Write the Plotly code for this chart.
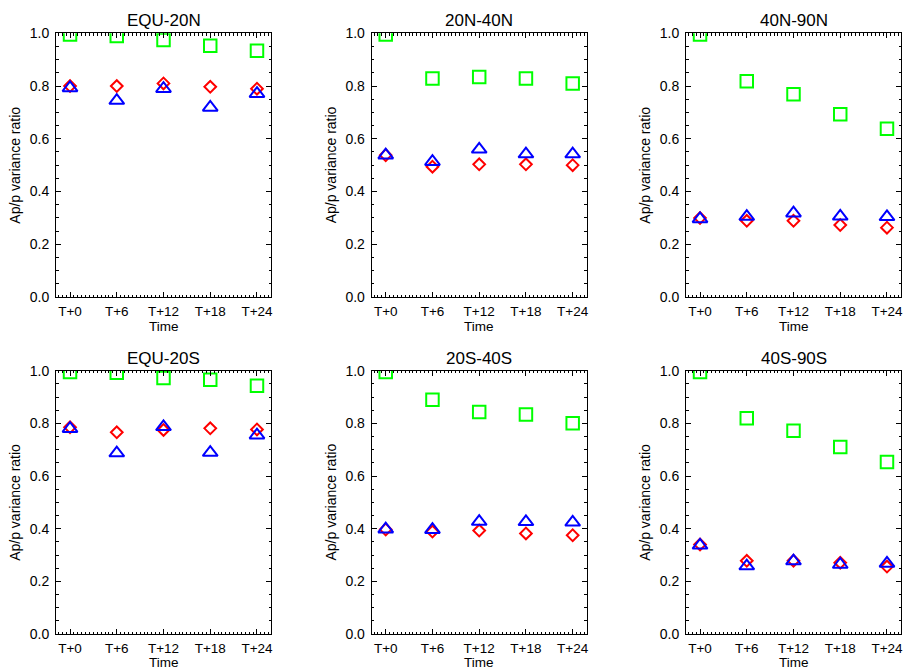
import plotly.graph_objects as go

W, H = 903, 669

hours = [0, 6, 12, 18, 24]
tick_labels = ["T+0", "T+6", "T+12", "T+18", "T+24"]
regions = ["EQU-20N", "20N-40N", "40N-90N", "EQU-20S", "20S-40S", "40S-90S"]

# green squares
sq_equ20n = [0.995, 0.99, 0.975, 0.953, 0.934]
sq_20n40n = [0.995, 0.829, 0.834, 0.829, 0.810]
sq_40n90n = [0.995, 0.818, 0.769, 0.693, 0.638]
sq_equ20s = [0.995, 0.992, 0.972, 0.966, 0.943]
sq_20s40s = [0.995, 0.890, 0.843, 0.834, 0.800]
sq_40s90s = [0.995, 0.819, 0.772, 0.710, 0.653]

# red diamonds
di_equ20n = [0.800, 0.800, 0.810, 0.797, 0.790]
di_20n40n = [0.538, 0.494, 0.503, 0.503, 0.500]
di_40n90n = [0.300, 0.289, 0.289, 0.273, 0.263]
di_equ20s = [0.785, 0.766, 0.775, 0.781, 0.777]
di_20s40s = [0.397, 0.389, 0.393, 0.382, 0.375]
di_40s90s = [0.340, 0.278, 0.278, 0.271, 0.256]

# blue triangles
tr_equ20n = [0.793, 0.745, 0.790, 0.719, 0.771]
tr_20n40n = [0.538, 0.513, 0.560, 0.542, 0.542]
tr_40n90n = [0.296, 0.305, 0.318, 0.306, 0.304]
tr_equ20s = [0.780, 0.687, 0.787, 0.689, 0.755]
tr_20s40s = [0.398, 0.396, 0.427, 0.426, 0.424]
tr_40s90s = [0.337, 0.258, 0.277, 0.264, 0.268]

squares = [sq_equ20n, sq_20n40n, sq_40n90n, sq_equ20s, sq_20s40s, sq_40s90s]
diamonds = [di_equ20n, di_20n40n, di_40n90n, di_equ20s, di_20s40s, di_40s90s]
triangles = [tr_equ20n, tr_20n40n, tr_40n90n, tr_equ20s, tr_20s40s, tr_40s90s]

# panel pixel boxes (left, right, top, bottom)
lefts = [56, 371.7, 686]
width_px = 215
rows_px = [(33.3, 297.0), (370.7, 634.0)]

FONT = "Liberation Sans, Arial, Helvetica, sans-serif"

fig = go.Figure()
annotations = []

for i in range(6):
    r, c = divmod(i, 3)
    n = i + 1
    xa = "x" if n == 1 else f"x{n}"
    ya = "y" if n == 1 else f"y{n}"
    l = lefts[c]
    rgt = l + width_px
    top, bot = rows_px[r]
    xdom = [l / W, rgt / W]
    ydom = [1 - bot / H, 1 - top / H]

    fig.add_trace(go.Scatter(x=hours, y=squares[i], mode="markers", xaxis=xa, yaxis=ya,
                             marker=dict(symbol="square-open", size=12.5, color="#00ff00",
                                         line=dict(width=2, color="#00ff00")),
                             showlegend=False))
    fig.add_trace(go.Scatter(x=hours, y=diamonds[i], mode="markers", xaxis=xa, yaxis=ya,
                             marker=dict(symbol="diamond-open", size=9, color="#ff0000",
                                         line=dict(width=2, color="#ff0000")),
                             showlegend=False))
    fig.add_trace(go.Scatter(x=hours, y=triangles[i], mode="markers", xaxis=xa, yaxis=ya,
                             marker=dict(symbol="triangle-up-open", size=13, color="#0000ff",
                                         line=dict(width=2, color="#0000ff")),
                             showlegend=False))

    xkey = "xaxis" if n == 1 else f"xaxis{n}"
    ykey = "yaxis" if n == 1 else f"yaxis{n}"
    fig.layout[xkey] = dict(
        domain=xdom, anchor=ya, range=[-1.8, 25.8], automargin=False,
        tickvals=hours, ticktext=tick_labels, ticklabeloverflow="allow",
        ticks="inside", ticklen=5, tickwidth=1, tickcolor="black",
        minor=dict(dtick=0.5, tick0=0, ticks="inside", ticklen=2.5, tickwidth=1, tickcolor="black"),
        showline=True, linecolor="black", linewidth=1, mirror="allticks",
        showgrid=False, zeroline=False,
        tickfont=dict(family=FONT, size=13.5, color="black"),
        ticklabelstandoff=2,
    )
    fig.layout[ykey] = dict(
        domain=ydom, anchor=xa, range=[0, 1], automargin=False,
        tick0=0, dtick=0.2, tickformat=".1f", ticklabeloverflow="allow",
        ticks="inside", ticklen=5, tickwidth=1, tickcolor="black",
        minor=dict(dtick=0.05, tick0=0, ticks="inside", ticklen=2.5, tickwidth=1, tickcolor="black"),
        showline=True, linecolor="black", linewidth=1, mirror="allticks",
        showgrid=False, zeroline=False,
        tickfont=dict(family=FONT, size=14, color="black"),
        ticklabelstandoff=3,
    )

    cx = (l + rgt) / 2 / W
    title_y = 1 - (20.5 if r == 0 else 358.7) / H
    annotations.append(dict(text=regions[i], x=cx, y=title_y, xref="paper", yref="paper",
                            xanchor="center", yanchor="middle", showarrow=False,
                            font=dict(family=FONT, size=17, color="black")))
    time_y = 1 - (326.5 if r == 0 else 662.5) / H
    annotations.append(dict(text="Time", x=cx, y=time_y, xref="paper", yref="paper",
                            xanchor="center", yanchor="middle", showarrow=False,
                            font=dict(family=FONT, size=13.5, color="black")))
    annotations.append(dict(text="Ap/p variance ratio", x=(l - 40.5) / W, y=(ydom[0] + ydom[1]) / 2,
                            xref="paper", yref="paper", textangle=-90,
                            xanchor="center", yanchor="middle", showarrow=False,
                            font=dict(family=FONT, size=14, color="black")))

fig.update_layout(width=W, height=H, margin=dict(l=0, r=0, t=0, b=0, autoexpand=False),
                  paper_bgcolor="white", plot_bgcolor="white",
                  annotations=annotations, showlegend=False)

fig.write_html("out.html")
